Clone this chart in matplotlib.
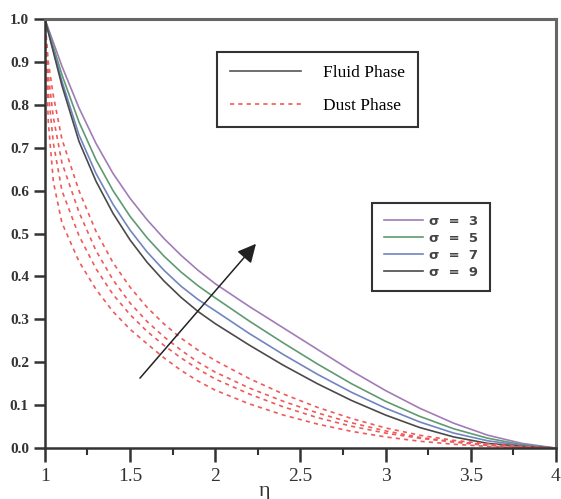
import matplotlib
matplotlib.use("Agg")
import matplotlib.pyplot as plt
from matplotlib.lines import Line2D

# ── data ──────────────────────────────────────────────────────────────────────
X_FLUID = [1.0, 1.1, 1.2, 1.3, 1.4, 1.5, 1.6, 1.7, 1.8, 1.9, 2.0,
           2.2, 2.4, 2.6, 2.8, 3.0, 3.2, 3.4, 3.6, 3.8, 4.0]
FLUID_S3 = [1.0, 0.89, 0.793, 0.71, 0.64, 0.582, 0.532, 0.488, 0.449, 0.414, 0.383,
            0.33, 0.28, 0.23, 0.18, 0.134, 0.093, 0.058, 0.03, 0.011, 0.0]
FLUID_S5 = [1.0, 0.87, 0.76, 0.672, 0.60, 0.54, 0.49, 0.447, 0.41, 0.378, 0.35,
            0.296, 0.245, 0.196, 0.15, 0.109, 0.074, 0.045, 0.023, 0.008, 0.0]
FLUID_S7 = [1.0, 0.855, 0.73, 0.64, 0.568, 0.508, 0.457, 0.414, 0.377, 0.346, 0.32,
            0.267, 0.218, 0.172, 0.13, 0.093, 0.061, 0.035, 0.017, 0.006, 0.0]
FLUID_S9 = [1.0, 0.845, 0.715, 0.622, 0.547, 0.485, 0.433, 0.389, 0.351, 0.318, 0.29,
            0.24, 0.193, 0.15, 0.111, 0.077, 0.048, 0.026, 0.011, 0.004, 0.0]

X_DUST = [1.0, 1.02, 1.05, 1.1, 1.2, 1.3, 1.4, 1.5, 1.6, 1.7, 1.8, 1.9, 2.0,
          2.2, 2.4, 2.6, 2.8, 3.0, 3.2, 3.4, 3.6, 3.8, 4.0]
DUST_S3 = [1.0, 0.90, 0.82, 0.72, 0.60, 0.505, 0.432, 0.375, 0.328, 0.289, 0.256, 0.228, 0.204,
           0.162, 0.126, 0.095, 0.069, 0.047, 0.030, 0.018, 0.010, 0.004, 0.0]
DUST_S5 = [1.0, 0.87, 0.77, 0.665, 0.55, 0.46, 0.392, 0.338, 0.295, 0.259, 0.228, 0.20, 0.177,
           0.14, 0.109, 0.082, 0.059, 0.040, 0.025, 0.015, 0.008, 0.002, 0.0]
DUST_S7 = [1.0, 0.83, 0.71, 0.60, 0.495, 0.418, 0.358, 0.311, 0.272, 0.239, 0.21, 0.184, 0.161,
           0.126, 0.096, 0.071, 0.051, 0.035, 0.023, 0.014, 0.006, 0.002, 0.0]
DUST_S9 = [1.0, 0.76, 0.62, 0.525, 0.435, 0.37, 0.318, 0.277, 0.243, 0.21, 0.181, 0.156, 0.135,
           0.103, 0.077, 0.056, 0.039, 0.026, 0.016, 0.009, 0.004, 0.001, 0.0]

SIGMAS = [3, 5, 7, 9]
ARROW_TAIL = (1.558, 0.163)
ARROW_HEAD = (2.239, 0.476)

# ── styling ───────────────────────────────────────────────────────────────────
COLORS = ["#a27bb8", "#5f9a70", "#7085c2", "#4a4a4a"]
DUST_COL = "#ee5a5a"
AX_COL = "#333333"
SERIF = "Liberation Serif"

fig = plt.figure(figsize=(5.61, 4.99), dpi=100)
ax = fig.add_axes([0.080, 0.102, 0.911, 0.860])

fluid = [FLUID_S3, FLUID_S5, FLUID_S7, FLUID_S9]
dust = [DUST_S3, DUST_S5, DUST_S7, DUST_S9]

for ys, c in zip(fluid, COLORS):
    ax.plot(X_FLUID, ys, color=c, lw=1.2)
for ys in dust:
    ax.plot(X_DUST, ys, color=DUST_COL, lw=1.2, dashes=(2.5, 2.5))

ax.annotate("", xy=ARROW_HEAD, xytext=ARROW_TAIL,
            arrowprops=dict(arrowstyle="-|>", color="#222222", lw=1.1,
                            mutation_scale=28, shrinkA=0, shrinkB=0))

ax.set_xlim(1, 4)
ax.set_ylim(0, 1)
ax.set_xticks([1, 1.5, 2, 2.5, 3, 3.5, 4])
ax.set_xticklabels(["1", "1.5", "2", "2.5", "3", "3.5", "4"])
ax.set_xticks([1.25, 1.75, 2.25, 2.75, 3.25, 3.75], minor=True)
ax.set_yticks([i / 10 for i in range(11)])
ax.set_yticklabels([f"{i / 10:.1f}" for i in range(11)])

for s in ["left", "bottom"]:
    ax.spines[s].set_linewidth(1.8)
    ax.spines[s].set_color(AX_COL)
for s in ["top", "right"]:
    ax.spines[s].set_linewidth(2.2)
    ax.spines[s].set_color("#666666")

ax.tick_params(axis="both", which="major", direction="out", width=1.8,
               length=8, color=AX_COL)
ax.tick_params(axis="x", which="minor", direction="out", width=1.5,
               length=5, color=AX_COL)
ax.tick_params(axis="x", which="major", length=10, pad=4)
for lab in ax.get_yticklabels():
    lab.set_fontfamily(SERIF)
    lab.set_fontweight("bold")
    lab.set_fontsize(11)
    lab.set_color("#333333")
for lab in ax.get_xticklabels():
    lab.set_fontfamily(SERIF)
    lab.set_fontsize(14)
    lab.set_color("#333333")

ax.text(0.43, -0.1, "η", transform=ax.transAxes, ha="center", va="center",
        fontfamily=SERIF, fontsize=16, color="#333333")

# legend 1: phases
h1 = [Line2D([], [], color="#555555", lw=1.2),
      Line2D([], [], color=DUST_COL, lw=1.2, dashes=(2.5, 2.5))]
leg1 = ax.legend(h1, ["Fluid Phase", "Dust Phase"], loc="upper left",
                 bbox_to_anchor=(0.337, 0.923), borderaxespad=0,
                 prop={"family": SERIF, "size": 12.5}, handlelength=4.1,
                 handletextpad=1.25, labelspacing=0.95, borderpad=0.75,
                 fancybox=False, framealpha=1, edgecolor="#333333")
leg1.get_frame().set_linewidth(1.5)
ax.add_artist(leg1)

# legend 2: sigma
h2 = [Line2D([], [], color=c, lw=1.2) for c in COLORS]
leg2 = ax.legend(h2, [f"σ  =  {s}" for s in SIGMAS], loc="upper left",
                 bbox_to_anchor=(0.640, 0.571), borderaxespad=0,
                 prop={"family": "DejaVu Sans", "size": 9.5, "weight": "bold"},
                 handlelength=3.0, handletextpad=0.4, labelspacing=0.3,
                 borderpad=0.9, fancybox=False, framealpha=1,
                 edgecolor="#333333")
leg2.get_frame().set_linewidth(1.5)
for t in leg2.get_texts():
    t.set_color("#444444")

fig.savefig("out.png", dpi=100)
